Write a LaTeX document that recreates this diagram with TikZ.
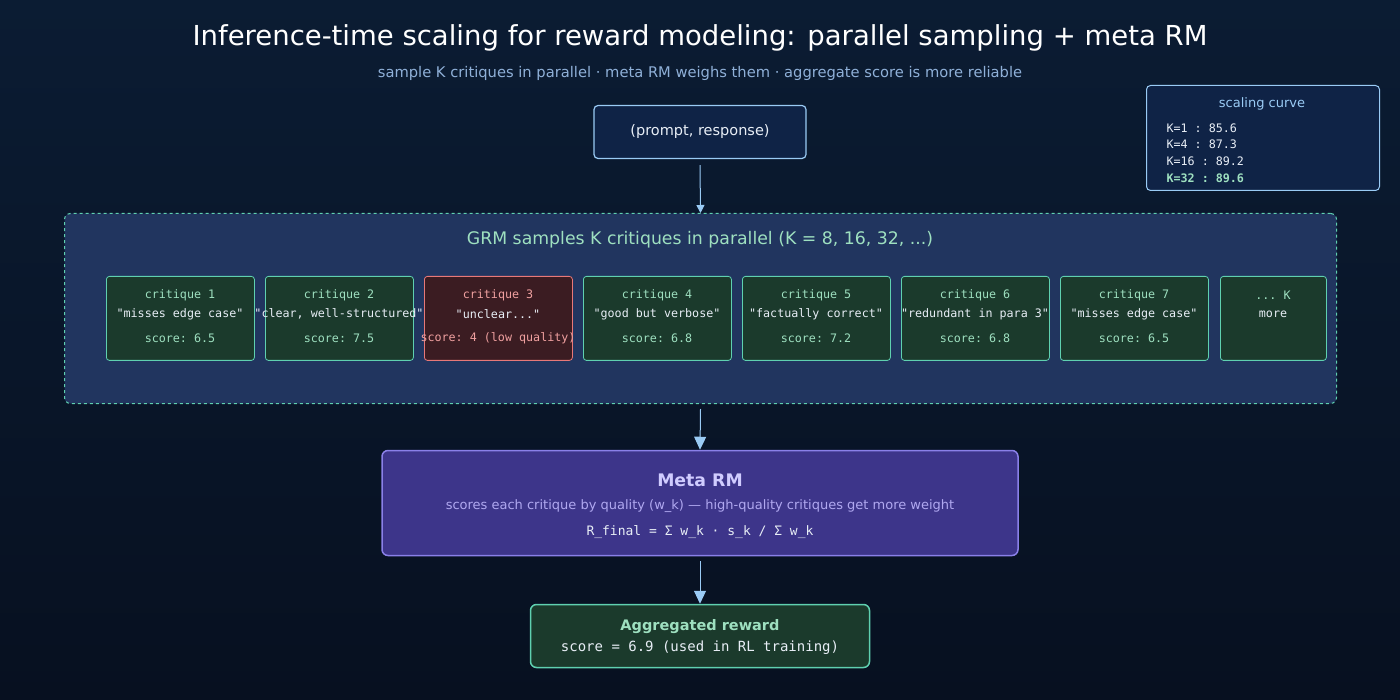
\documentclass[tikz,border=0pt]{standalone}
\usepackage{fontspec}
\setmainfont{DejaVu Sans}
\setmonofont{DejaVu Sans Mono}
\usetikzlibrary{arrows.meta}
\definecolor{bgtop}{HTML}{0B1C33}
\definecolor{bgbot}{HTML}{071020}
\definecolor{navybox}{HTML}{0F2346}
\definecolor{lineblue}{HTML}{9ACBF5}
\definecolor{grmfill}{HTML}{21355F}
\definecolor{teal}{HTML}{5FD0B0}
\definecolor{greenfill}{HTML}{1B3A2C}
\definecolor{greentxt}{HTML}{9EE0C0}
\definecolor{redfill}{HTML}{3B1C22}
\definecolor{redline}{HTML}{E87878}
\definecolor{redtxt}{HTML}{F0A0A0}
\definecolor{metafill}{HTML}{3D358A}
\definecolor{metaline}{HTML}{8A80E8}
\definecolor{metatxt}{HTML}{D0CCFF}
\definecolor{metasub}{HTML}{B0A8F0}
\definecolor{subtxt}{HTML}{8FB0D8}
\definecolor{whitish}{HTML}{E8EEF6}

\begin{document}
\begin{tikzpicture}[x=1pt,y=-1pt,
  font=\fontsize{13}{15}\selectfont,
  critbox/.style={draw=teal,fill=greenfill,rounded corners=3pt,line width=0.8pt,minimum width=148pt,minimum height=84pt,anchor=north west},
  badbox/.style={critbox,draw=redline,fill=redfill},
  crittext/.style={font=\ttfamily\fontsize{11.7}{13}\selectfont,align=center},
  flow/.style={-{Triangle[length=9pt,width=9pt]},lineblue,line width=1pt}]
  \shade[top color=bgtop,bottom color=bgbot] (0,0) rectangle (1400,700);
  \useasboundingbox (0,0) rectangle (1400,700);
  % title
  \node[text=white,font=\fontsize{27.5}{32}\selectfont] (title) at (700,38) {Inference-time scaling for reward modeling: parallel sampling + meta RM};
  \node[text=subtxt,font=\fontsize{14.7}{17}\selectfont] (subtitle) at (700,73) {sample K critiques in parallel · meta RM weighs them · aggregate score is more reliable};
  % input
  \node[draw=lineblue,fill=navybox,rounded corners=4pt,line width=1.2pt,minimum width=212pt,minimum height=53pt,text=whitish,font=\fontsize{14.5}{17}\selectfont] (input) at (700,132) {(prompt, response)};
  % scaling curve
  \node[draw=lineblue,fill=navybox,rounded corners=4pt,line width=1pt,minimum width=233pt,minimum height=105pt,anchor=north west] (curve) at (1146,85) {};
  \node[text=lineblue,font=\fontsize{13}{15}\selectfont] (curvetitle) at (1262,104) {scaling curve};
  \node[anchor=west,text=whitish,font=\ttfamily\fontsize{11.7}{13}\selectfont] (k1) at (1163,128) {K=1 : 85.6};
  \node[anchor=west,text=whitish,font=\ttfamily\fontsize{11.7}{13}\selectfont] (k4) at (1163,144) {K=4 : 87.3};
  \node[anchor=west,text=whitish,font=\ttfamily\fontsize{11.7}{13}\selectfont] (k16) at (1163,161) {K=16 : 89.2};
  \node[anchor=west,text=greentxt,font=\ttfamily\bfseries\fontsize{11.7}{13}\selectfont] (k32) at (1163,178) {K=32 : 89.6};
  % GRM
  \node[draw=teal,dashed,fill=grmfill,rounded corners=6pt,line width=1pt,minimum width=1272pt,minimum height=190pt,anchor=north west] (grm) at (64,213) {};
  \node[text=greentxt,font=\fontsize{17.3}{20}\selectfont] (grmtitle) at (700,240) {GRM samples K critiques in parallel (K = 8, 16, 32, ...)};
  \foreach \i/\q/\s in {1/{"misses edge case"}/{score: 6.5}, 2/{"clear, well-structured"}/{score: 7.5}, 4/{"good but verbose"}/{score: 6.8}, 5/{"factually correct"}/{score: 7.2}, 6/{"redundant in para 3"}/{score: 6.8}, 7/{"misses edge case"}/{score: 6.5}}{
    \node[critbox] (c\i) at ({106+159*(\i-1)},276) {};
    \node[crittext,text=greentxt] at ({180+159*(\i-1)},295) {critique \i};
    \node[crittext,text=whitish] at ({180+159*(\i-1)},314) {\q};
    \node[crittext,text=greentxt] at ({180+159*(\i-1)},338) {\s};
  }
  \node[badbox] (c3) at (424,276) {};
  \node[crittext,text=redtxt] at (498,295) {critique 3};
  \node[crittext,text=whitish] at (498,314) {"unclear..."};
  \node[crittext,text=redtxt] at (498,338) {score: 4 (low quality)};
  \node[critbox,minimum width=106pt] (c8) at (1220,276) {};
  \node[crittext,text=greentxt] at (1273,295) {... K};
  \node[crittext,text=whitish] at (1273,314) {more};
  % meta RM
  \node[draw=metaline,fill=metafill,rounded corners=6pt,line width=1.5pt,minimum width=636pt,minimum height=105pt] (meta) at (700,503) {};
  \node[text=metatxt,font=\bfseries\fontsize{17.3}{20}\selectfont] (metatitle) at (700,480) {Meta RM};
  \node[text=metasub,font=\fontsize{13}{15}\selectfont] (metasub) at (700,506) {scores each critique by quality (w\_k) — high-quality critiques get more weight};
  \node[text=whitish,font=\ttfamily\fontsize{13}{15}\selectfont] (metaform) at (700,532) {R\_final = Σ w\_k · s\_k / Σ w\_k};
  % output
  \node[draw=teal,fill=greenfill,rounded corners=6pt,line width=1.5pt,minimum width=339pt,minimum height=63pt] (out) at (700,636) {};
  \node[text=greentxt,font=\bfseries\fontsize{14.5}{17}\selectfont] (outtitle) at (700,627) {Aggregated reward};
  \node[text=whitish,font=\ttfamily\fontsize{14}{16}\selectfont] (outscore) at (700,648) {score = 6.9 (used in RL training)};
  % arrows
  \draw[flow,-{Triangle[length=8pt,width=8pt]}] (input.south) ++(0,6) -- (grm.north);
  \draw[flow,-{Triangle[length=13pt,width=12pt]}] (grm.south) ++(0,5) -- (meta.north);
  \draw[flow,-{Triangle[length=13pt,width=12pt]}] (meta.south) ++(0,5) -- (out.north);
\end{tikzpicture}
\end{document}
